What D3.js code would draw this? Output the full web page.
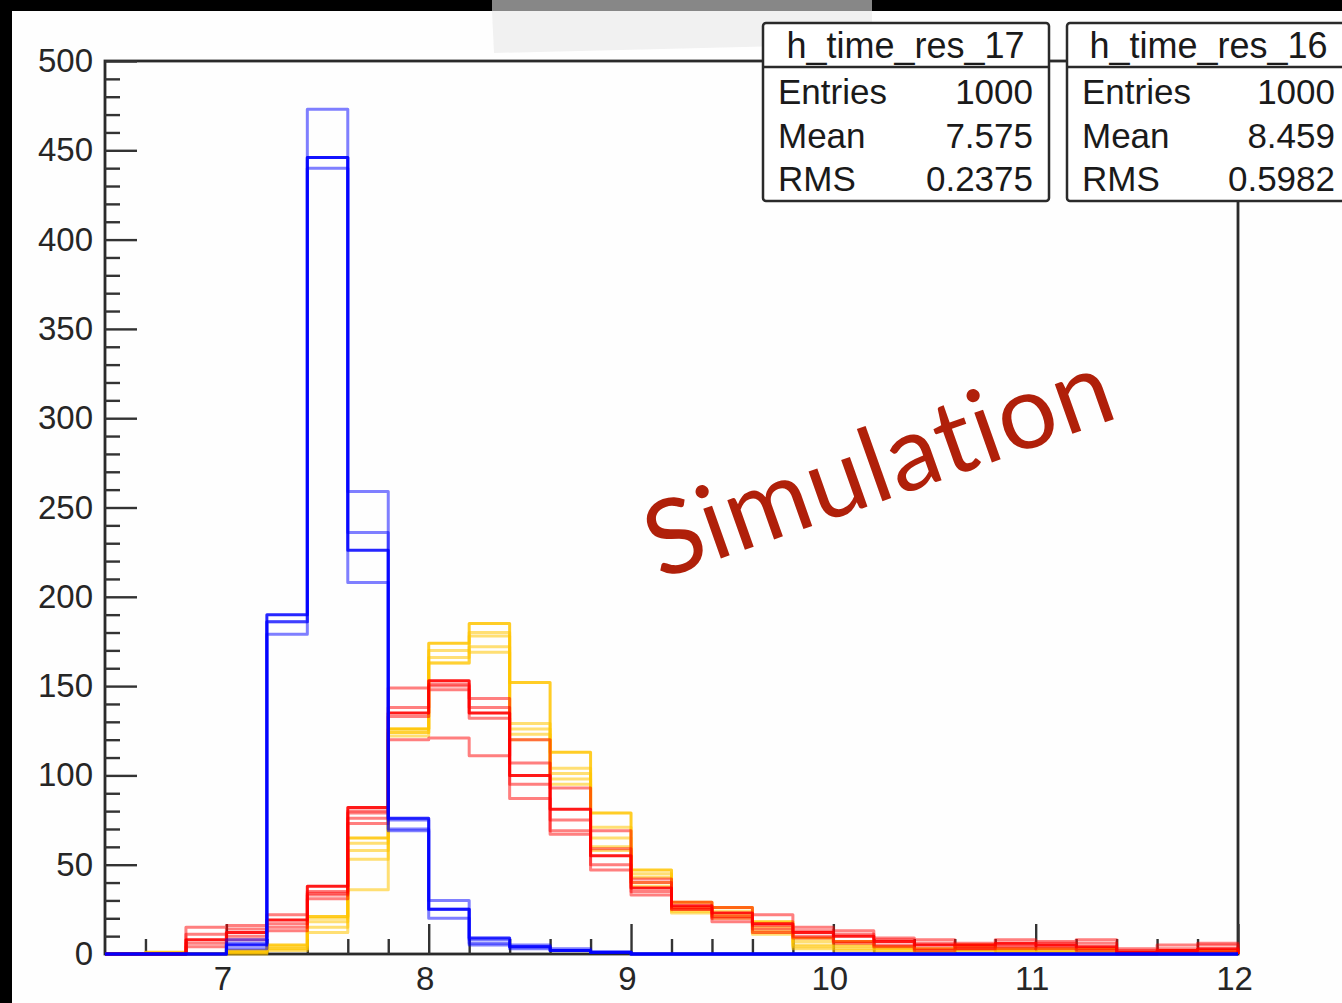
<!DOCTYPE html>
<html>
<head>
<meta charset="utf-8">
<script src="https://cdn.jsdelivr.net/npm/d3@7/dist/d3.min.js"></script>
<style>
  html, body { margin: 0; padding: 0; background: #fff; }
  svg { display: block; }
</style>
</head>
<body>
<svg id="chart" width="1342" height="1003"></svg>
<script>
// ---------------- data ----------------
const binLow = 6.4, binWidth = 0.2;           // 28 bins from 6.4 to 12.0
const xTicks = [7, 8, 9, 10, 11, 12];
const yTicks = [0, 50, 100, 150, 200, 250, 300, 350, 400, 450, 500];

// blue family (first one drawn strongest)
const blue1 = [0,0,0,5,190,446,226,76,25,9,4,2,1,0,0,0,0,0,0,0,0,0,0,0,0,0,0,0];
const blue2 = [0,0,0,8,186,473,208,69,30,8,5,3,1,0,0,0,0,0,0,0,0,0,0,0,0,0,0,0];
const blue3 = [0,0,0,3,179,446,236,75,20,6,4,2,1,0,0,0,0,0,0,0,0,0,0,0,0,0,0,0];
const blue4 = [0,0,0,6,186,440,259,70,25,5,3,2,1,0,0,0,0,0,0,0,0,0,0,0,0,0,0,0];

// red family
const red1 = [0,0,8,12,19,38,82,135,153,135,100,81,55,37,27,23,17,12,10,7,5,5,6,5,4,1,2,3];
const red2 = [0,0,15,16,22,35,79,149,151,143,107,93,69,42,29,26,22,15,13,9,8,6,8,7,8,2,3,5];
const red3 = [0,0,11,14,17,33,76,138,150,138,95,75,59,40,26,21,16,13,11,8,6,4,5,6,6,3,5,6];
const red4 = [0,0,6,10,13,31,73,133,148,132,87,69,50,35,25,18,14,10,7,5,3,3,4,3,3,1,1,2];
const red5 = [0,0,4,8,15,34,80,120,121,111,120,67,47,33,25,20,12,9,6,4,2,3,3,4,2,0,1,1];

// yellow family
const yel1 = [0,1,0,2,5,21,65,126,174,185,152,113,79,47,29,26,18,9,7,4,3,5,3,3,3,1,2,2];
const yel2 = [0,0,0,1,4,18,62,124,166,180,129,104,71,45,26,24,15,7,5,3,2,4,2,2,2,1,1,1];
const yel3 = [0,0,0,1,3,15,58,122,163,178,126,101,65,43,25,22,13,5,4,3,1,3,2,1,1,0,1,1];
const yel4 = [0,0,0,0,3,12,53,126,163,172,123,98,60,40,24,21,12,4,3,2,1,2,1,1,1,0,0,1];
const yel5 = [0,0,0,1,2,20,36,124,170,169,120,95,58,38,23,20,11,3,2,1,0,2,1,1,0,0,0,0];

const statsBoxes = [
  { title: "h_time_res_17", labels: ["Entries", "Mean", "RMS"], values: ["1000", "7.575", "0.2375"] },
  { title: "h_time_res_16", labels: ["Entries", "Mean", "RMS"], values: ["1000", "8.459", "0.5982"] }
];
const watermark = "Simulation";

// ---------------- drawing ----------------
const svg = d3.select("#chart");
const W = 1342, H = 1003;
const plot = { left: 105, right: 1238, top: 61, bottom: 954 };
const x = d3.scaleLinear().domain([6.4, 12]).range([plot.left, plot.right]);
const y = d3.scaleLinear().domain([0, 500]).range([plot.bottom, plot.top]);
const font = "'Liberation Sans', Arial, Helvetica, sans-serif";

svg.append("rect").attr("width", W).attr("height", H).attr("fill", "#fefefe");

// screenshot artefacts at top
svg.append("path")
  .attr("d", "M492,11 L872,11 L872,44 L494,53 Z")
  .attr("fill", "#f1f1f1");
svg.append("rect").attr("x", 0).attr("y", 0).attr("width", W).attr("height", 11).attr("fill", "#000");
svg.append("rect").attr("x", 492).attr("y", 0).attr("width", 380).attr("height", 11).attr("fill", "#878787");
svg.append("rect").attr("x", 0).attr("y", 0).attr("width", 12).attr("height", H).attr("fill", "#000");

// frame
svg.append("rect")
  .attr("x", plot.left).attr("y", plot.top)
  .attr("width", plot.right - plot.left).attr("height", plot.bottom - plot.top)
  .attr("fill", "none").attr("stroke", "#2a2a2a").attr("stroke-width", 2.8);

// axes
const yMinor = d3.range(0, 501, 10).filter(v => v % 50 !== 0);
const xMinor = d3.range(0, 29).map(i => +(binLow + binWidth * i).toFixed(2)).filter(v => !xTicks.includes(v) && v > 6.4 && v < 12);

function styleAxis(g) {
  g.select(".domain").remove();
  g.selectAll(".tick line").attr("stroke", "#333").attr("stroke-width", 2.4);
  g.selectAll(".tick text").attr("fill", "#262626").style("font-family", font).style("font-size", "33px");
}

svg.append("g").attr("transform", `translate(${plot.left},0)`)
  .call(d3.axisLeft(y).tickValues(yTicks).tickSize(-32).tickPadding(12).tickFormat(d3.format("d")))
  .call(styleAxis);
svg.append("g").attr("transform", `translate(${plot.left},0)`)
  .call(d3.axisLeft(y).tickValues(yMinor).tickSize(-15).tickFormat(""))
  .call(styleAxis);
svg.append("g").attr("transform", `translate(0,${plot.bottom})`)
  .call(d3.axisBottom(x).tickValues(xTicks).tickSize(-30).tickPadding(13).tickFormat(d3.format("d")))
  .call(styleAxis)
  .call(g => g.selectAll(".tick text").attr("dx", -4));
svg.append("g").attr("transform", `translate(0,${plot.bottom})`)
  .call(d3.axisBottom(x).tickValues(xMinor).tickSize(-15).tickFormat(""))
  .call(styleAxis);

// histograms
const line = d3.line().x(d => x(d[0])).y(d => y(d[1])).curve(d3.curveStepAfter);
function histPoints(vals) {
  const pts = [[binLow, 0]];
  vals.forEach((v, i) => pts.push([binLow + binWidth * i, v]));
  pts.push([binLow + binWidth * vals.length, vals[vals.length - 1]]);
  pts.push([binLow + binWidth * vals.length, 0]);
  return pts;
}
const series = [
  { v: yel2, c: "#ffc400", o: 0.55 },
  { v: yel3, c: "#ffc400", o: 0.55 },
  { v: yel4, c: "#ffc400", o: 0.55 },
  { v: yel5, c: "#ffc400", o: 0.55 },
  { v: yel1, c: "#ffc400", o: 0.85 },
  { v: red2, c: "#ff0000", o: 0.5 },
  { v: red3, c: "#ff0000", o: 0.5 },
  { v: red4, c: "#ff0000", o: 0.5 },
  { v: red5, c: "#ff0000", o: 0.5 },
  { v: red1, c: "#ff0000", o: 0.9 },
  { v: blue2, c: "#0000ff", o: 0.5 },
  { v: blue3, c: "#0000ff", o: 0.5 },
  { v: blue4, c: "#0000ff", o: 0.5 },
  { v: blue1, c: "#0000ff", o: 0.85 }
];
svg.append("g").selectAll("path").data(series).join("path")
  .attr("d", d => line(histPoints(d.v)))
  .attr("fill", "none")
  .attr("stroke", d => d.c)
  .attr("stroke-opacity", d => d.o)
  .attr("stroke-width", 3)
  .attr("stroke-linejoin", "round");

// watermark
svg.append("text")
  .attr("transform", "translate(878,463) rotate(-19.5)")
  .attr("text-anchor", "middle")
  .attr("dy", "0.36em")
  .attr("fill", "#b0200a")
  .style("font-family", "Lato, 'Open Sans', sans-serif")
  .style("font-size", "104px")
  .style("letter-spacing", "1px")
  .text(watermark);

// stats boxes
const boxLayout = [
  { x: 763, w: 286, labelX: 778, valueX: 1033 },
  { x: 1067, w: 292, labelX: 1082, valueX: 1335 }
];
statsBoxes.forEach((b, i) => {
  const L = boxLayout[i];
  const g = svg.append("g");
  g.append("rect").attr("x", L.x).attr("y", 23).attr("width", L.w).attr("height", 178).attr("rx", 3)
    .attr("fill", "#fff").attr("stroke", "#2a2a2a").attr("stroke-width", 2.5);
  g.append("line").attr("x1", L.x).attr("x2", L.x + L.w).attr("y1", 67).attr("y2", 67)
    .attr("stroke", "#2a2a2a").attr("stroke-width", 2.5);
  g.append("text").attr("x", (L.labelX + L.valueX) / 2).attr("y", 58).attr("text-anchor", "middle")
    .attr("fill", "#1a1a1a").style("font-family", font).style("font-size", "36px").text(b.title);
  b.labels.forEach((lab, j) => {
    const yy = 104 + j * 43.5;
    g.append("text").attr("x", L.labelX).attr("y", yy).attr("fill", "#1a1a1a")
      .style("font-family", font).style("font-size", "35px").text(lab);
    g.append("text").attr("x", L.valueX).attr("y", yy).attr("text-anchor", "end").attr("fill", "#1a1a1a")
      .style("font-family", font).style("font-size", "35px").text(b.values[j]);
  });
});
</script>
</body>
</html>
